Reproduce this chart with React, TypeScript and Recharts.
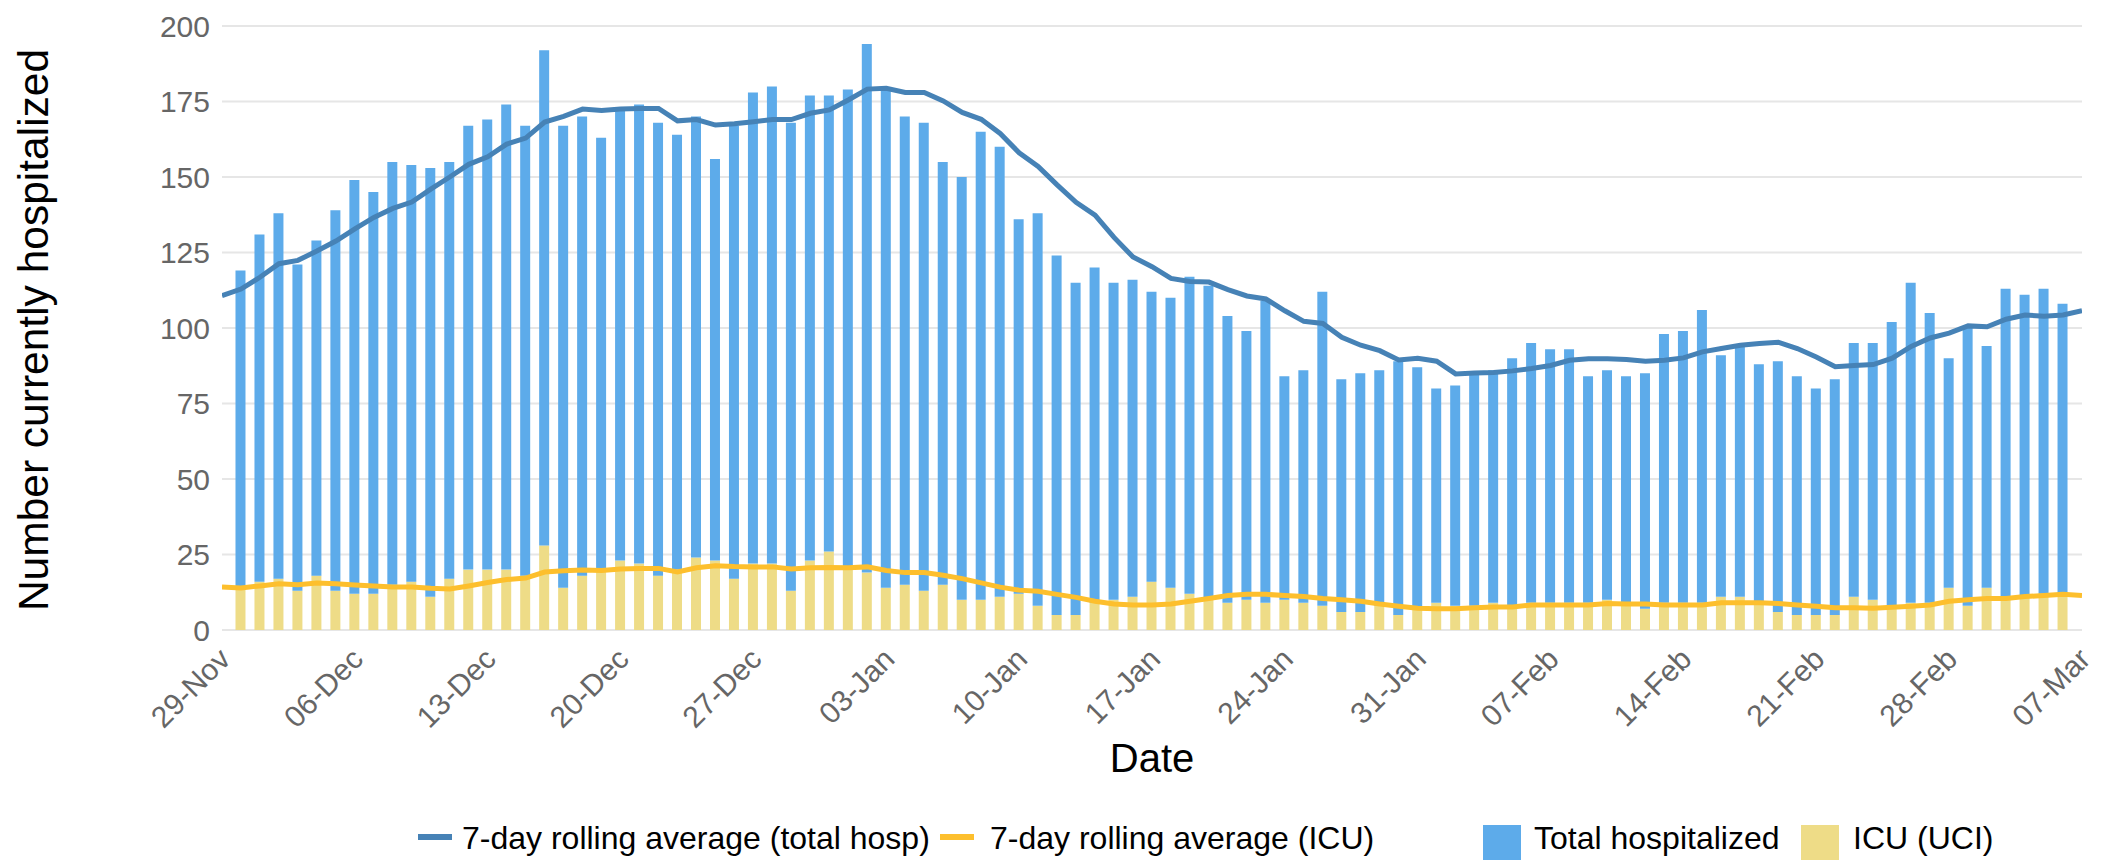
import React from "react";
import { ComposedChart, Bar, Line, XAxis, YAxis, CartesianGrid, Legend } from "recharts";

// one point per day, 29-Nov .. 07-Mar (99 days); bars missing on the first and last day
const TOTAL_HOSP = [
  null, 119, 131, 138, 121, 129, 139, 149, 145, 155, 154, 153, 155, 167, 169, 174, 167, 192, 167, 170,
  163, 172, 174, 168, 164, 170, 156, 167, 178, 180, 168, 177, 177, 179, 194, 179, 170, 168, 155, 150,
  165, 160, 136, 138, 124, 115, 120, 115, 116, 112, 110, 117, 114, 104, 99, 109, 84, 86, 112, 83,
  85, 86, 89, 87, 80, 81, 85, 86, 90, 95, 93, 93, 84, 86, 84, 85, 98, 99, 106, 91,
  94, 88, 89, 84, 80, 83, 95, 95, 102, 115, 105, 90, 100, 94, 113, 111, 113, 108, null,
];

const ICU_HOSP = [
  null, 14, 16, 17, 13, 18, 13, 12, 12, 15, 16, 11, 17, 20, 20, 20, 18, 28, 14, 18,
  20, 23, 22, 18, 20, 24, 23, 17, 22, 22, 13, 23, 26, 21, 19, 14, 15, 13, 15, 10,
  10, 11, 12, 8, 5, 5, 9, 10, 11, 16, 14, 12, 10, 9, 10, 9, 10, 9, 8, 6,
  6, 8, 5, 7, 9, 8, 8, 9, 8, 9, 9, 9, 9, 10, 9, 7, 9, 9, 9, 11,
  11, 9, 6, 5, 5, 5, 11, 10, 7, 9, 9, 14, 8, 14, 11, 11, 12, 12, null,
];

const TOTAL_AVG = [
  110.7, 112.9, 116.8, 121.3, 122.4, 125.5, 128.8, 132.8, 136.6, 139.6, 141.7, 146, 150, 154.2, 156.7, 160.9, 162.9, 168.2, 170.1, 172.5,
  172, 172.5, 172.7, 172.7, 168.6, 169, 167.2, 167.6, 168.3, 169, 169, 171.1, 172.2, 175.5, 179.1, 179.4, 178, 178, 175.2, 171.4,
  169.1, 164.4, 158, 153.5, 147.4, 141.6, 137.4, 130, 123.5, 120.3, 116.4, 115.4, 115.2, 112.7, 110.6, 109.6, 105.7, 102.2, 101.5, 96.9,
  94.3, 92.5, 89.4, 90, 89, 84.8, 85.1, 85.3, 85.8, 86.6, 87.6, 89.3, 89.8, 89.8, 89.6, 89, 89.3, 90.1, 92.1, 93.2,
  94.3, 94.9, 95.3, 93.2, 90.4, 87.2, 87.6, 87.9, 90, 93.9, 96.7, 98.3, 100.7, 100.4, 102.9, 104.3, 103.9, 104.3, 105.7,
];

const ICU_AVG = [
  14.2, 13.9, 14.6, 15.3, 15, 15.6, 15.3, 14.9, 14.6, 14.2, 14.2, 13.8, 13.6, 14.6, 15.7, 16.7, 17.2, 19.2, 19.6, 19.9,
  19.7, 20.2, 20.4, 20.4, 19.2, 20.6, 21.3, 21, 20.9, 20.9, 20.2, 20.6, 20.7, 20.6, 20.9, 19.7, 19, 19, 18.1, 17,
  15.6, 14.2, 13.2, 12.8, 11.8, 10.8, 9.5, 8.6, 8.3, 8.3, 8.6, 9.5, 10.4, 11.4, 11.8, 11.8, 11.4, 11.1, 10.4, 10,
  9.5, 8.6, 7.9, 7.2, 7, 7, 7.4, 7.6, 7.6, 8.3, 8.3, 8.3, 8.3, 8.8, 8.6, 8.6, 8.3, 8.3, 8.3, 9,
  9, 9, 8.8, 8.3, 7.9, 7.4, 7.4, 7.2, 7.5, 7.9, 8.3, 9.5, 10, 10.4, 10.4, 11.1, 11.4, 11.8, 11.4,
];

const TICK_LABELS = [
  "29-Nov", "06-Dec", "13-Dec", "20-Dec", "27-Dec", "03-Jan", "10-Jan", "17-Jan",
  "24-Jan", "31-Jan", "07-Feb", "14-Feb", "21-Feb", "28-Feb", "07-Mar",
];
const Y_TICKS = [0, 25, 50, 75, 100, 125, 150, 175, 200];

const BLUE_BAR = "#5dabea";
const YELLOW_BAR = "#eedc87";
const BLUE_LINE = "#4682b6";
const YELLOW_LINE = "#fdbf2d";
const FONT = "'Liberation Sans', Arial, sans-serif";

// ICU bar drawn at the base, the rest of the total stacked on top of it
const data = TOTAL_AVG.map((avg, i) => ({
  day: i,
  icu: ICU_HOSP[i],
  rest: TOTAL_HOSP[i] == null ? null : TOTAL_HOSP[i] - ICU_HOSP[i],
  totalAvg: avg,
  icuAvg: ICU_AVG[i],
}));

const dayTicks = TICK_LABELS.map((_, i) => i * 7);

function DateTick({ x, y, payload }: any) {
  const label = TICK_LABELS[Math.round(payload.value / 7)];
  return (
    <text
      x={0}
      y={0}
      transform={`translate(${x + 10},${y + 29}) rotate(-45)`}
      textAnchor="end"
      fontSize={30}
      fontFamily={FONT}
      fill="#666"
    >
      {label}
    </text>
  );
}

function renderLegend() {
  const text = { position: "absolute" as const, top: 6, fontSize: 32, fontFamily: FONT, color: "#000", lineHeight: "36px", whiteSpace: "nowrap" as const };
  const lineIcon = (left: number, color: string) => (
    <div style={{ position: "absolute", left, top: 22, width: 34, height: 6, background: color }} />
  );
  const box = (left: number, color: string) => (
    <div style={{ position: "absolute", left, top: 13, width: 38, height: 40, background: color }} />
  );
  return (
    <div style={{ position: "relative", width: 2114, height: 48 }}>
      {lineIcon(418, BLUE_LINE)}
      <span style={{ ...text, left: 462, top: 8 }}>7-day rolling average (total hosp)</span>
      {lineIcon(940, YELLOW_LINE)}
      <span style={{ ...text, left: 990, top: 8 }}>7-day rolling average (ICU)</span>
      {box(1483, BLUE_BAR)}
      <span style={{ ...text, left: 1534, top: 8 }}>Total hospitalized</span>
      {box(1801, YELLOW_BAR)}
      <span style={{ ...text, left: 1853, top: 8 }}>ICU (UCI)</span>
    </div>
  );
}

export default function App() {
  return (
    <div style={{ position: "absolute", left: 0, top: 0, width: 2114, height: 860, background: "#fff", overflow: "hidden" }}>
      <ComposedChart width={2114} height={860} data={data} margin={{ top: 26, right: 32, left: 0, bottom: 0 }}>
        <CartesianGrid vertical={false} stroke="#e6e6e6" strokeWidth={2} />
        <XAxis
          dataKey="day"
          type="number"
          domain={[0, 98]}
          ticks={dayTicks}
          interval={0}
          allowDataOverflow
          height={230}
          axisLine={false}
          tickLine={false}
          tickSize={0}
          tick={<DateTick />}
          label={{
            content: () => (
              <text x={1152} y={772} textAnchor="middle" fontSize={40} fontFamily={FONT} fill="#000">
                Date
              </text>
            ),
          }}
        />
        <YAxis
          width={222}
          domain={[0, 200]}
          ticks={Y_TICKS}
          interval={0}
          axisLine={false}
          tickLine={false}
          tickSize={0}
          tickMargin={12}
          tick={{ fontSize: 30, fontFamily: FONT, fill: "#666" }}
          label={{
            content: () => (
              <text
                x={0}
                y={0}
                transform="translate(48,330) rotate(-90)"
                textAnchor="middle"
                fontSize={42.5}
                fontFamily={FONT}
                fill="#000"
              >
                Number currently hospitalized
              </text>
            ),
          }}
        />
        <Legend
          layout="horizontal"
          verticalAlign="middle"
          align="center"
          wrapperStyle={{ position: "absolute", left: 0, top: 812, width: 2114, height: 48 }}
          content={renderLegend}
        />
        <Bar dataKey="icu" stackId="h" fill={YELLOW_BAR} barSize={10} isAnimationActive={false} />
        <Bar dataKey="rest" stackId="h" fill={BLUE_BAR} barSize={10} isAnimationActive={false} />
        <Line dataKey="totalAvg" type="linear" stroke={BLUE_LINE} strokeWidth={5} dot={false} isAnimationActive={false} />
        <Line dataKey="icuAvg" type="linear" stroke={YELLOW_LINE} strokeWidth={5} dot={false} isAnimationActive={false} />
      </ComposedChart>
    </div>
  );
}
